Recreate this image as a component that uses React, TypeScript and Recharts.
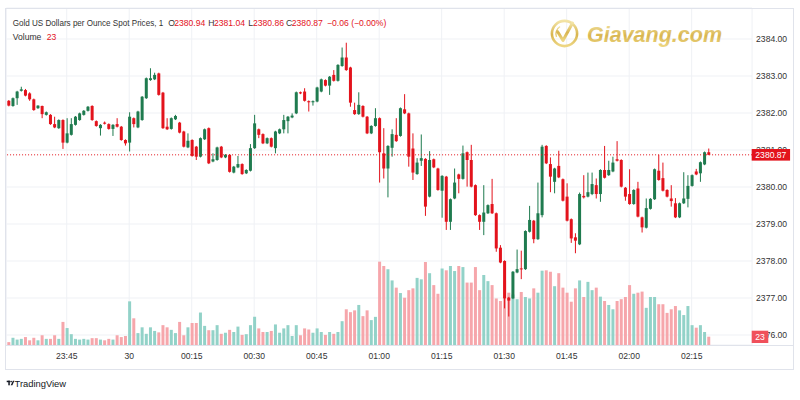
import React from 'react';
import { ComposedChart, Bar, XAxis, YAxis, CartesianGrid, ReferenceLine, Cell } from 'recharts';

const FONT = "'Liberation Sans', Arial, sans-serif";
const GREEN = '#1f7b4f';
const RED = '#e3131c';
const VOL_UP = '#92d2c8';
const VOL_DOWN = '#f6a6ab';

const startMinute = 23 * 60 + 31; // first candle 23:31
const padCount = 10;

const opens = [
  2382.33, 2382.19, 2382.40, 2382.60, 2382.62, 2382.53, 2382.37, 2382.13, 2382.19, 2381.95,
  2381.95, 2381.70, 2381.59, 2381.81, 2381.20, 2381.41, 2381.68, 2381.81, 2381.95, 2382.06,
  2382.19, 2381.78, 2381.59, 2381.74, 2381.70, 2381.57, 2381.70, 2381.63, 2381.27, 2381.20,
  2381.86, 2381.61, 2381.81, 2382.40, 2382.89, 2382.91, 2383.07, 2382.55, 2381.63, 2381.57,
  2381.83, 2381.74, 2381.50, 2381.07, 2381.27, 2381.09, 2380.82, 2381.29, 2381.59, 2380.69,
  2380.73, 2381.09, 2380.80, 2380.87, 2380.39, 2380.53, 2380.62, 2380.37, 2380.44, 2381.05,
  2381.56, 2381.43, 2381.18, 2381.32, 2381.05, 2381.45, 2381.56, 2381.78, 2381.88, 2381.99,
  2382.56, 2382.58, 2382.32, 2382.29, 2382.31, 2382.58, 2382.89, 2382.74, 2383.03, 2382.87,
  2383.27, 2383.50, 2383.23, 2382.08, 2381.97, 2382.19, 2381.90, 2381.45, 2381.65, 2381.86,
  2380.91, 2380.50, 2381.06, 2381.41, 2381.38, 2382.10, 2381.99, 2381.04, 2380.35, 2380.71,
  2380.76, 2379.74, 2380.75, 2380.50, 2379.90, 2380.28, 2379.06, 2379.69, 2380.34, 2380.22,
  2380.94, 2380.73, 2380.05, 2379.24, 2379.06, 2379.29, 2379.54, 2379.29, 2378.36, 2378.00,
  2377.01, 2376.99, 2377.69, 2377.80, 2377.78, 2378.79, 2379.09, 2378.59, 2379.24, 2381.11,
  2380.62, 2380.14, 2380.57, 2380.21, 2379.74, 2379.13, 2378.64, 2378.45, 2379.76, 2379.74,
  2379.81, 2380.05, 2379.81, 2380.46, 2380.32, 2380.42, 2380.75, 2380.73, 2379.98, 2379.81,
  2379.54, 2379.96, 2379.18, 2378.90, 2379.41, 2379.67, 2380.44, 2380.24, 2379.92, 2379.69,
  2379.56, 2379.18, 2379.56, 2379.68, 2380.03, 2380.42, 2380.37, 2380.61, 2380.94,
];

const highs = [
  2382.35, 2382.42, 2382.60, 2382.71, 2382.65, 2382.56, 2382.39, 2382.21, 2382.20, 2382.04,
  2381.97, 2381.90, 2381.83, 2381.83, 2381.86, 2381.86, 2381.92, 2382.01, 2382.08, 2382.19,
  2382.21, 2381.80, 2381.70, 2381.77, 2381.72, 2381.70, 2381.86, 2381.65, 2381.29, 2382.02,
  2381.88, 2382.06, 2382.46, 2382.96, 2383.21, 2383.09, 2383.09, 2382.57, 2381.86, 2381.88,
  2381.95, 2381.76, 2381.52, 2381.45, 2381.29, 2381.11, 2381.34, 2381.58, 2381.61, 2380.91,
  2381.09, 2381.11, 2380.89, 2380.89, 2380.57, 2380.84, 2380.64, 2380.48, 2381.16, 2381.95,
  2381.58, 2381.45, 2381.34, 2381.34, 2381.52, 2381.58, 2381.95, 2381.92, 2381.99, 2382.58,
  2382.58, 2382.67, 2382.34, 2382.34, 2382.71, 2382.93, 2382.91, 2383.00, 2383.16, 2383.32,
  2383.77, 2383.90, 2383.25, 2382.28, 2382.56, 2382.21, 2381.92, 2381.67, 2382.13, 2381.88,
  2381.59, 2381.13, 2381.56, 2381.86, 2382.15, 2382.51, 2382.01, 2381.45, 2380.78, 2381.42,
  2380.78, 2380.97, 2380.77, 2380.52, 2380.32, 2380.30, 2379.69, 2380.50, 2380.36, 2381.12,
  2380.96, 2381.14, 2380.07, 2379.26, 2380.05, 2379.53, 2380.22, 2379.31, 2378.43, 2378.02,
  2377.03, 2377.73, 2378.31, 2378.28, 2378.83, 2379.49, 2379.11, 2380.12, 2381.14, 2381.13,
  2380.80, 2380.52, 2380.98, 2380.23, 2380.10, 2379.15, 2378.75, 2379.85, 2380.32, 2380.39,
  2380.39, 2380.23, 2380.48, 2381.11, 2380.71, 2380.82, 2381.24, 2380.75, 2380.00, 2380.48,
  2379.94, 2380.14, 2379.20, 2379.69, 2379.70, 2380.50, 2380.87, 2380.66, 2379.94, 2380.05,
  2379.70, 2379.58, 2380.40, 2380.32, 2380.34, 2380.49, 2380.69, 2380.96, 2381.04,
];

const lows = [
  2382.18, 2382.17, 2382.22, 2382.58, 2382.45, 2382.33, 2382.06, 2382.11, 2381.86, 2381.93,
  2381.68, 2381.59, 2381.57, 2381.03, 2381.18, 2381.39, 2381.66, 2381.79, 2381.93, 2382.04,
  2381.79, 2381.63, 2381.39, 2381.69, 2381.55, 2381.38, 2381.61, 2381.25, 2381.12, 2380.96,
  2381.61, 2381.59, 2381.79, 2382.38, 2382.87, 2382.89, 2382.47, 2381.57, 2381.54, 2381.55,
  2381.81, 2381.45, 2381.07, 2381.05, 2380.82, 2380.73, 2380.80, 2381.27, 2380.62, 2380.67,
  2380.71, 2380.78, 2380.78, 2380.39, 2380.37, 2380.51, 2380.33, 2380.35, 2380.42, 2381.03,
  2381.32, 2381.16, 2381.16, 2381.07, 2380.91, 2381.43, 2381.45, 2381.45, 2381.86, 2381.97,
  2382.51, 2382.31, 2382.04, 2382.20, 2382.29, 2382.56, 2382.72, 2382.49, 2382.85, 2382.85,
  2383.25, 2383.14, 2382.17, 2381.95, 2381.95, 2381.88, 2381.43, 2381.43, 2381.63, 2380.12,
  2380.23, 2379.72, 2380.82, 2381.22, 2381.36, 2381.97, 2380.55, 2380.19, 2380.33, 2380.57,
  2379.22, 2379.72, 2380.51, 2379.90, 2379.17, 2378.84, 2378.84, 2379.67, 2379.83, 2380.20,
  2380.01, 2379.99, 2379.22, 2378.84, 2378.70, 2379.27, 2379.27, 2378.25, 2377.94, 2376.72,
  2376.50, 2376.97, 2377.67, 2377.51, 2377.76, 2378.77, 2378.48, 2378.57, 2379.18, 2380.62,
  2379.86, 2379.83, 2380.24, 2379.61, 2379.07, 2378.49, 2378.21, 2378.43, 2379.69, 2379.72,
  2379.78, 2379.69, 2379.60, 2380.23, 2380.30, 2380.40, 2380.69, 2379.99, 2379.63, 2379.52,
  2379.52, 2379.18, 2378.77, 2378.88, 2379.39, 2379.65, 2380.17, 2379.88, 2379.72, 2379.47,
  2379.16, 2379.16, 2379.54, 2379.45, 2380.01, 2380.32, 2380.14, 2380.59, 2380.86,
];

const closes = [
  2382.20, 2382.40, 2382.58, 2382.64, 2382.47, 2382.37, 2382.08, 2382.20, 2381.97, 2382.02,
  2381.70, 2381.61, 2381.81, 2381.20, 2381.45, 2381.70, 2381.90, 2381.99, 2382.06, 2382.17,
  2381.81, 2381.65, 2381.68, 2381.71, 2381.57, 2381.68, 2381.63, 2381.27, 2381.18, 2381.90,
  2381.70, 2382.04, 2382.44, 2382.94, 2382.94, 2383.03, 2382.49, 2381.59, 2381.56, 2381.86,
  2381.92, 2381.47, 2381.09, 2381.25, 2380.84, 2380.82, 2381.32, 2381.56, 2380.64, 2380.75,
  2381.07, 2380.80, 2380.87, 2380.41, 2380.55, 2380.62, 2380.35, 2380.46, 2381.05, 2381.72,
  2381.41, 2381.18, 2381.32, 2381.09, 2381.50, 2381.56, 2381.81, 2381.90, 2381.93, 2382.56,
  2382.53, 2382.33, 2382.29, 2382.32, 2382.69, 2382.91, 2382.74, 2382.98, 2382.87, 2383.30,
  2383.50, 2383.16, 2382.28, 2381.97, 2382.22, 2381.90, 2381.45, 2381.65, 2381.86, 2380.94,
  2380.50, 2381.11, 2381.43, 2381.24, 2382.13, 2381.99, 2380.82, 2380.39, 2380.66, 2380.78,
  2379.47, 2380.73, 2380.53, 2379.92, 2380.30, 2379.06, 2379.67, 2380.12, 2380.22, 2380.91,
  2380.73, 2380.01, 2379.24, 2379.06, 2379.31, 2379.51, 2379.29, 2378.34, 2377.96, 2376.99,
  2376.93, 2377.71, 2377.78, 2377.78, 2378.81, 2379.11, 2378.59, 2379.29, 2381.09, 2380.64,
  2380.28, 2380.50, 2380.26, 2379.63, 2379.09, 2378.61, 2378.55, 2379.81, 2379.72, 2379.86,
  2380.08, 2379.81, 2380.46, 2380.25, 2380.46, 2380.66, 2380.71, 2380.01, 2379.74, 2379.54,
  2379.92, 2379.20, 2378.91, 2379.43, 2379.68, 2380.48, 2380.19, 2379.90, 2379.74, 2379.62,
  2379.18, 2379.56, 2379.69, 2380.03, 2380.32, 2380.34, 2380.67, 2380.94, 2380.87,
];

const volumes = [
  8, 20, 15, 17, 22, 13, 20, 13, 27, 17,
  17, 27, 17, 64, 47, 30, 17, 15, 17, 15,
  19, 19, 15, 13, 17, 15, 27, 22, 25, 121,
  74, 33, 49, 31, 49, 39, 35, 55, 49, 42,
  33, 64, 27, 49, 61, 61, 90, 53, 41, 41,
  55, 31, 34, 42, 36, 51, 28, 30, 55, 78,
  46, 36, 36, 39, 57, 34, 46, 55, 25, 55,
  27, 46, 43, 34, 46, 36, 28, 36, 31, 36,
  66, 99, 91, 96, 111, 80, 96, 69, 78, 231,
  219, 210, 179, 159, 144, 131, 152, 157, 186, 182,
  230, 199, 166, 142, 212, 207, 219, 205, 219, 216,
  173, 173, 216, 152, 194, 177, 166, 129, 122, 179,
  145, 140, 127, 147, 133, 129, 157, 145, 206, 207,
  203, 163, 199, 159, 145, 120, 157, 179, 133, 175,
  152, 159, 134, 122, 111, 99, 122, 127, 133, 166,
  142, 145, 148, 103, 133, 133, 113, 113, 89, 99,
  108, 96, 83, 108, 55, 48, 55, 36, 23,
];

const priceTicks = [2376, 2377, 2378, 2379, 2380, 2381, 2382, 2383, 2384];
const timeTicks = ['23:45', '00:00', '00:15', '00:30', '00:45', '01:00', '01:15', '01:30', '01:45', '02:00', '02:15'];
const timeTickLabels: Record<string, string> = { '00:00': '30' };

const lastPrice = closes[closes.length - 1];
const lastVolume = volumes[volumes.length - 1];

const PRICE_DOMAIN: [number, number] = [2375.73, 2384.838];
const VOL_DOMAIN: [number, number] = [0, 934];
const AXIS_W = 47.9;

const fmtTime = (m: number) => {
  const mm = ((m % 1440) + 1440) % 1440;
  const h = Math.floor(mm / 60);
  const mi = mm % 60;
  return `${String(h).padStart(2, '0')}:${String(mi).padStart(2, '0')}`;
};

const data = Array.from({ length: opens.length + padCount }, (_, i) => {
  const t = fmtTime(startMinute + i);
  if (i < opens.length) {
    return { t, open: opens[i], high: highs[i], low: lows[i], close: closes[i], volume: volumes[i] };
  }
  return { t } as any;
});

const Candle = (props: any) => {
  const { x, y, width, height, payload } = props;
  if (!payload || payload.open == null || !isFinite(y) || !isFinite(height)) return null;
  const { open, high, low, close } = payload;
  const top = Math.min(y, y + height);
  const span = Math.abs(height);
  const ratio = high - low > 0 ? span / (high - low) : 0;
  const up = close >= open;
  const color = up ? GREEN : RED;
  const yO = top + (high - open) * ratio;
  const yC = top + (high - close) * ratio;
  const bTop = Math.min(yO, yC);
  const bH = Math.max(1, Math.abs(yO - yC));
  const cx = x + width / 2;
  return (
    <g>
      <rect x={cx - 0.5} y={top} width={1} height={Math.max(1, span)} fill={color} />
      <rect x={x} y={bTop} width={width} height={bH} fill={color} />
    </g>
  );
};

const PriceTick = (props: any) => {
  const { x, y, payload } = props;
  return (
    <text x={x} y={y} dy={3.1} fontSize={8.6} fill="#333" fontFamily={FONT} textAnchor="start">
      {Number(payload.value).toFixed(2)}
    </text>
  );
};

const TimeTick = (props: any) => {
  const { x, y, payload } = props;
  const label = timeTickLabels[payload.value] ?? payload.value;
  return (
    <text x={x} y={y} dy={14} fontSize={8.6} fill="#333" fontFamily={FONT} textAnchor="middle">
      {label}
    </text>
  );
};

// Last-price badge, drawn as the tick of an extra (zero-width) axis on the price scale,
// so it is painted after the price tick labels.
const PriceBadgeTick = (props: any) => {
  const { x, y, payload } = props;
  const bx = x - AXIS_W - 0.4;
  return (
    <g>
      <rect x={bx} y={y - 5.8} width={38.4} height={11.6} fill={RED} />
      <text x={bx + 19.2} y={y + 3.1} fontSize={8.6} fill="#fff" fontFamily={FONT} textAnchor="middle">
        {Number(payload.value).toFixed(2)}
      </text>
    </g>
  );
};

const VolumeBadgeTick = (props: any) => {
  const { x, y, payload } = props;
  const bx = x - AXIS_W - 0.4;
  return (
    <g>
      <rect x={bx} y={y - 6} width={16.6} height={12.3} fill="#f0505b" />
      <text x={bx + 8.3} y={y + 3.1} fontSize={8.6} fill="#fff" fontFamily={FONT} textAnchor="middle">
        {String(payload.value)}
      </text>
    </g>
  );
};

export default function App() {
  return (
    <div style={{ position: 'absolute', left: 0, top: 0, width: 800, height: 400, background: '#fff', fontFamily: FONT }}>
      <ComposedChart
        width={800}
        height={400}
        data={data}
        margin={{ top: 8, right: 0, bottom: 31, left: 6.3 }}
      >
        <CartesianGrid xAxisId="p" yAxisId="p" stroke="#eff1f5" strokeWidth={1} />
        <XAxis
          xAxisId="p"
          dataKey="t"
          ticks={timeTicks}
          interval={0}
          height={24}
          tickSize={0}
          tickMargin={0}
          axisLine={false}
          tickLine={false}
          tick={<TimeTick />}
        />
        <XAxis xAxisId="v" dataKey="t" hide />
        <YAxis
          yAxisId="p"
          orientation="right"
          domain={PRICE_DOMAIN}
          allowDataOverflow
          ticks={priceTicks}
          interval={0}
          width={AXIS_W}
          tickSize={0}
          tickMargin={4}
          axisLine={false}
          tickLine={false}
          tick={<PriceTick />}
        />
        <YAxis yAxisId="v" hide domain={VOL_DOMAIN} allowDataOverflow />
        <YAxis
          yAxisId="pb"
          orientation="right"
          domain={PRICE_DOMAIN}
          allowDataOverflow
          ticks={[lastPrice]}
          interval={0}
          width={0.01}
          tickSize={0}
          tickMargin={0}
          axisLine={false}
          tickLine={false}
          tick={<PriceBadgeTick />}
        />
        <YAxis
          yAxisId="vb"
          orientation="right"
          domain={VOL_DOMAIN}
          allowDataOverflow
          ticks={[lastVolume]}
          interval={0}
          width={0.01}
          tickSize={0}
          tickMargin={0}
          axisLine={false}
          tickLine={false}
          tick={<VolumeBadgeTick />}
        />
        <Bar
          xAxisId="v"
          yAxisId="v"
          dataKey="volume"
          barSize={3}
          isAnimationActive={false}
        >
          {data.map((d: any, i: number) => (
            <Cell key={i} fill={d.close >= d.open ? VOL_UP : VOL_DOWN} />
          ))}
        </Bar>
        <Bar
          xAxisId="p"
          yAxisId="p"
          dataKey={(d: any) => (d.open == null ? null : [d.low, d.high])}
          barSize={3}
          isAnimationActive={false}
          shape={(p: any) => <Candle {...p} />}
        />
        <ReferenceLine
          xAxisId="p"
          yAxisId="p"
          y={lastPrice}
          stroke={RED}
          strokeWidth={1}
          strokeDasharray="1 2"
        />
      </ComposedChart>

      <svg width={800} height={400} style={{ position: 'absolute', left: 0, top: 0, pointerEvents: 'none' }}>
        <defs>
          <linearGradient id="goldV" x1="0" y1="0" x2="0" y2="1">
            <stop offset="0" stopColor="#f3e4a6" />
            <stop offset="0.55" stopColor="#d8b54f" />
            <stop offset="1" stopColor="#eed784" />
          </linearGradient>
        </defs>
        {/* frame */}
        <rect x={5.5} y={8.5} width={788} height={361} fill="none" stroke="#e0e3eb" strokeWidth={1} />
        <line x1={5.5} y1={345.5} x2={793.5} y2={345.5} stroke="#e0e3eb" strokeWidth={1} />

        {/* legend */}
        <text x={12.7} y={26.3} fontSize={8.6} fontFamily={FONT} fill="#333" textLength={150.5} lengthAdjust="spacingAndGlyphs">
          Gold US Dollars per Ounce Spot Prices, 1
        </text>
        <text x={168.3} y={26.3} fontSize={8.6} fontFamily={FONT} fill="#333">O</text>
        <text x={174.2} y={26.3} fontSize={8.6} fontFamily={FONT} fill={RED}>2380.94</text>
        <text x={208.3} y={26.3} fontSize={8.6} fontFamily={FONT} fill="#333">H</text>
        <text x={214.0} y={26.3} fontSize={8.6} fontFamily={FONT} fill={RED}>2381.04</text>
        <text x={248.3} y={26.3} fontSize={8.6} fontFamily={FONT} fill="#333">L</text>
        <text x={253.0} y={26.3} fontSize={8.6} fontFamily={FONT} fill={RED}>2380.86</text>
        <text x={286.0} y={26.3} fontSize={8.6} fontFamily={FONT} fill="#333">C</text>
        <text x={291.8} y={26.3} fontSize={8.6} fontFamily={FONT} fill={RED}>2380.87</text>
        <text x={327.0} y={26.3} fontSize={8.6} fontFamily={FONT} fill={RED}>−0.06 (−0.00%)</text>
        <text x={12.7} y={40.3} fontSize={8.6} fontFamily={FONT} fill="#333">Volume</text>
        <text x={46.7} y={40.3} fontSize={8.6} fontFamily={FONT} fill={RED}>23</text>

        {/* watermark */}
        <g>
          <circle cx={564.5} cy={33.5} r={12.6} fill="none" stroke="url(#goldV)" strokeWidth={2.6} />
          <path d="M557.5 31.5 L563 40.5 L572.5 23" fill="none" stroke="url(#goldV)" strokeWidth={3} strokeLinecap="round" strokeLinejoin="round" />
          <path d="M556.5 37 A9 9 0 0 1 560 26.5" fill="none" stroke="url(#goldV)" strokeWidth={1.4} />
          <text x={587} y={41.6} fontSize={21.5} fontWeight="bold" fontStyle="italic" fontFamily={FONT} fill="url(#goldV)">
            Giavang.com
          </text>
        </g>

        {/* TradingView logo */}
        <g fill="#131722">
          <rect x={6.7} y={380.7} width={3.1} height={1.5} />
          <rect x={8.3} y={380.7} width={1.5} height={4.6} />
          <circle cx={11.1} cy={381.5} r={0.85} />
          <polygon points="12.9,380.7 14.4,380.7 12.4,385.3 10.7,385.3" />
        </g>
        <text x={14.5} y={386.6} fontSize={9.4} fontFamily={FONT} fill="#131722">TradingView</text>
      </svg>
    </div>
  );
}
